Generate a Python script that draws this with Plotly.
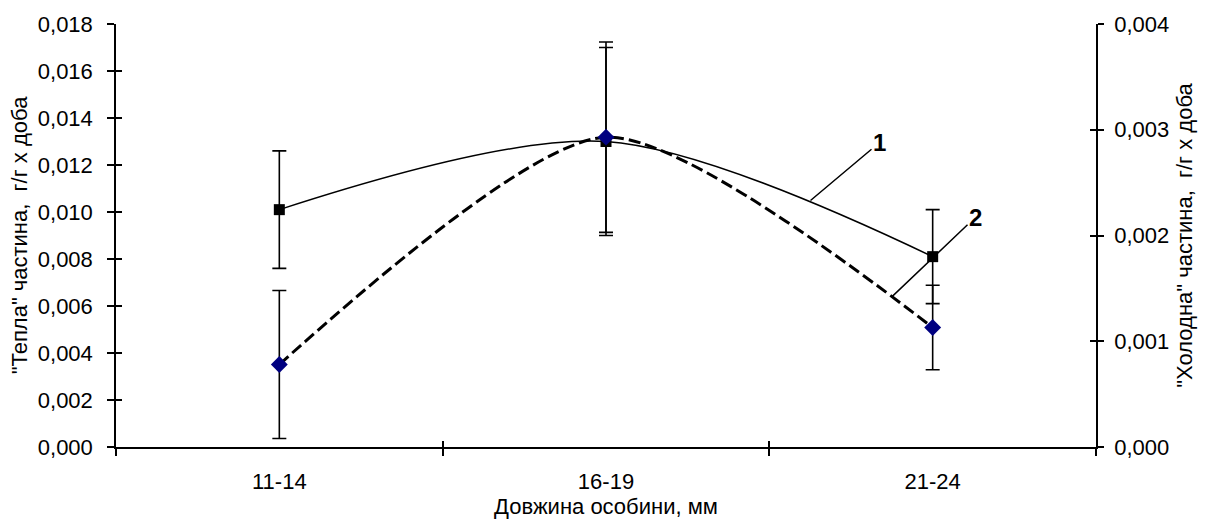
import plotly.graph_objects as go

# Body length groups
categories = ["11-14", "16-19", "21-24"]

# Series 1: "warm" fraction (left axis), mean and error
warm = [0.0101, 0.0130, 0.0081]
warm_err = [0.0025, 0.0040, 0.0020]

# Series 2: "cold" fraction (right axis), mean and error
cold = [0.00078, 0.00293, 0.00113]
cold_err = [0.0007, 0.0009, 0.0004]

left_ticks = [0.000, 0.002, 0.004, 0.006, 0.008, 0.010, 0.012, 0.014, 0.016, 0.018]
right_ticks = [0.000, 0.001, 0.002, 0.003, 0.004]

FONT = "Liberation Sans, Arial, sans-serif"

fig = go.Figure()

fig.add_trace(go.Scatter(
    x=categories, y=warm, name="1",
    mode="lines+markers",
    line=dict(color="black", width=1.5, shape="spline", smoothing=0.9),
    marker=dict(symbol="square", size=11, color="black"),
    error_y=dict(type="data", array=warm_err, color="black", thickness=1.6, width=7),
    xaxis="x", yaxis="y",
))

fig.add_trace(go.Scatter(
    x=categories, y=cold, name="2",
    mode="lines+markers",
    line=dict(color="black", width=3, dash="12px,5px", shape="spline", smoothing=0.7),
    marker=dict(symbol="diamond", size=13, color="#000080"),
    error_y=dict(type="data", array=cold_err, color="black", thickness=1.6, width=7),
    xaxis="x", yaxis="y2",
))

# empty traces that carry the inner halves of the crossing tick marks
fig.add_trace(go.Scatter(x=[None], y=[None], xaxis="x2", yaxis="y3",
                         showlegend=False, hoverinfo="skip"))
fig.add_trace(go.Scatter(x=[None], y=[None], xaxis="x2", yaxis="y4",
                         showlegend=False, hoverinfo="skip"))

tick_font = dict(family=FONT, size=22, color="black")
title_font = dict(family=FONT, size=22, color="black")

fig.update_layout(
    width=1205, height=522,
    margin=dict(l=116, r=107, t=18, b=75),
    paper_bgcolor="white", plot_bgcolor="white",
    showlegend=False,
    separators=", ",
    xaxis=dict(
        type="category", range=[-0.5, 2.5],
        tickson="boundaries", ticks="outside", ticklen=7, tickwidth=1.5, tickcolor="black",
        showline=True, linecolor="black", linewidth=1.5,
        showgrid=False, zeroline=False,
        tickfont=tick_font, ticklabelstandoff=14,
        title=dict(text="Довжина особини, мм", font=title_font, standoff=0),
    ),
    xaxis2=dict(
        overlaying="x", range=[-0.5, 2.5], anchor="y",
        tickvals=[-0.5, 0.5, 1.5, 2.5], ticks="inside", ticklen=6, tickwidth=1.5,
        tickcolor="black", showticklabels=False, showline=False, showgrid=False,
        zeroline=False,
    ),
    yaxis=dict(
        range=[0, 0.018], tickvals=left_ticks, tickformat=".3f",
        ticks="outside", ticklen=7, tickwidth=1.5, tickcolor="black",
        showline=True, linecolor="black", linewidth=1.5,
        showgrid=False, zeroline=False,
        tickfont=tick_font, ticklabelstandoff=10,
        title=dict(text='"Тепла" частина,  г/г х доба', font=title_font, standoff=4),
    ),
    yaxis2=dict(
        range=[0, 0.004], tickvals=right_ticks, tickformat=".3f",
        overlaying="y", side="right", anchor="x",
        ticks="outside", ticklen=6, tickwidth=1.5, tickcolor="black",
        showline=True, linecolor="black", linewidth=1.5,
        showgrid=False, zeroline=False,
        tickfont=tick_font, ticklabelstandoff=6,
        title=dict(text='"Холодна" частина,  г/г х доба', font=title_font, standoff=8),
    ),
    yaxis3=dict(
        range=[0, 0.018], tickvals=left_ticks, overlaying="y", side="left", anchor="x2",
        ticks="inside", ticklen=6, tickwidth=1.5, tickcolor="black",
        showticklabels=False, showline=False, showgrid=False, zeroline=False,
    ),
    yaxis4=dict(
        range=[0, 0.004], tickvals=right_ticks, overlaying="y", side="right", anchor="x2",
        ticks="inside", ticklen=6, tickwidth=1.5, tickcolor="black",
        showticklabels=False, showline=False, showgrid=False, zeroline=False,
    ),
)

# series labels with leader lines
fig.add_annotation(x=1.626, y=0.01049, xref="x", yref="y", text="<b>1</b>",
                   showarrow=True, arrowhead=0, arrowwidth=1.5, arrowcolor="black",
                   ax=69, ay=-58, font=dict(family=FONT, size=24, color="black"))
fig.add_annotation(x=1.874, y=0.001417, xref="x", yref="y2", text="<b>2</b>",
                   showarrow=True, arrowhead=0, arrowwidth=1.5, arrowcolor="black",
                   ax=84, ay=-80, font=dict(family=FONT, size=24, color="black"))

fig.write_html("out.html")
